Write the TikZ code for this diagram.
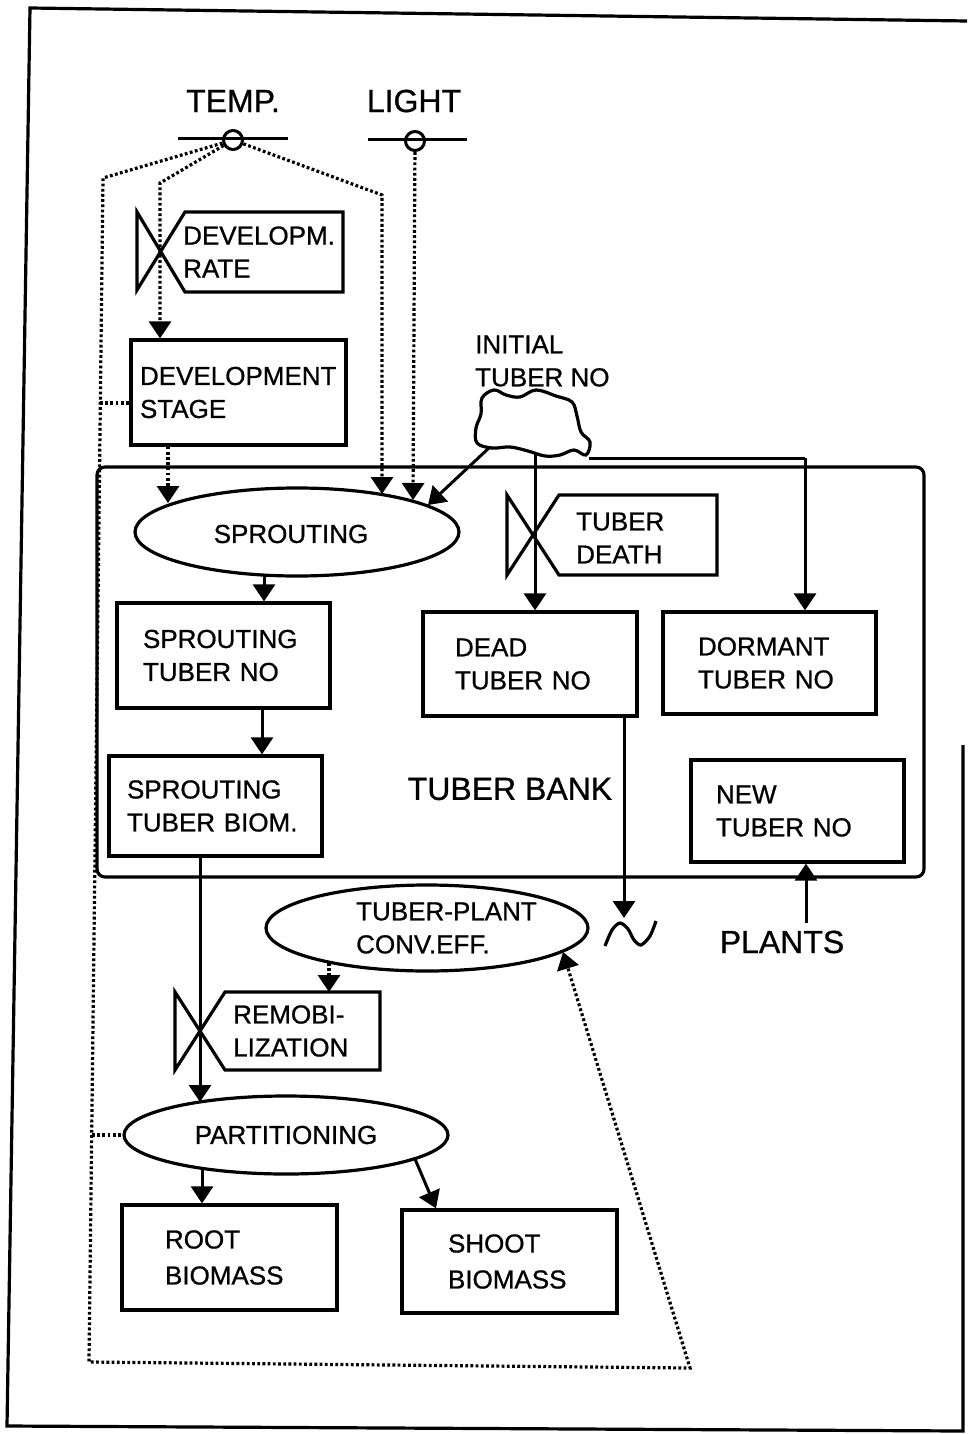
\documentclass[tikz,border=0pt]{standalone}
\usepackage{fontspec}
\setmainfont{Liberation Sans}[FakeBold=0.8]
\usetikzlibrary{arrows.meta,shapes.geometric}
\begin{document}
\begin{tikzpicture}[x=1pt,y=-1pt,
  every node/.style={font=\fontsize{26}{33}\selectfont, inner sep=0pt},
  box/.style={draw, line width=3.2pt, align=left},
  oval/.style={draw, ellipse, line width=3.2pt},
  lbl/.style={align=left, anchor=west},
  big/.style={font=\fontsize{32}{38}\selectfont},
  tipA/.style={-{Triangle[width=22pt,length=17pt]}},
  flow/.style={line width=3pt, tipA},
  dotl/.style={line width=3.2pt, dash pattern=on 2.8pt off 2.4pt},
  info/.style={dotl, tipA},
  valveline/.style={line width=3.2pt, line join=miter},
  ]
\useasboundingbox (0,0) rectangle (967,1434);
% page frame
\draw[line width=3.2pt] (967,21) -- (30,8) -- (7,1426) -- (963,1431) -- (963,745);

% tuber bank
\node[draw, rounded corners=8pt, line width=3.2pt, minimum width=827, minimum height=410] (bank) at (510.5,672) {};
\node[big] (banklab) at (510,789) {TUBER BANK};

% drivers
\node[big] (templab) at (233,101) {TEMP.};
\node[big] (lightlab) at (414,101) {LIGHT};
\coordinate (t1) at (178,139); \coordinate (t2) at (288,139);
\coordinate (l1) at (368,140); \coordinate (l2) at (467,140);
\draw[line width=3pt] (t1) -- (t2);
\draw[line width=3pt] (l1) -- (l2);
\node[draw, circle, line width=3pt, minimum size=19] (tempc) at (233,140) {};
\node[draw, circle, line width=3pt, minimum size=19] (lightc) at (415,141) {};

% boxes
\node[box, minimum width=215, minimum height=105, text width=197] (devstage) at (238.5,392.5) {DEVELOPMENT\\STAGE};
\node[box, minimum width=213, minimum height=105, text width=161] (sptno) at (223.5,655.5) {SPROUTING\\TUBER NO};
\node[box, minimum width=213, minimum height=100, text width=177] (sptbio) at (215.5,806) {SPROUTING\\TUBER BIOM.};
\node[box, minimum width=214, minimum height=104, text width=150] (dead) at (530,664) {DEAD\\TUBER NO};
\node[box, minimum width=213, minimum height=102, text width=143] (dormant) at (769.5,663) {DORMANT\\TUBER NO};
\node[box, minimum width=213, minimum height=102, text width=163] (newtub) at (797.5,811) {NEW\\TUBER NO};
\node[box, minimum width=215, minimum height=105, text width=129, font=\fontsize{26}{36}\selectfont] (root) at (229.5,1257.5) {ROOT\\BIOMASS};
\node[box, minimum width=215, minimum height=103, text width=123, font=\fontsize{26}{36}\selectfont] (shoot) at (509.5,1261.5) {SHOOT\\BIOMASS};

% ellipses
\node[oval, minimum width=324, minimum height=88] (sprout) at (297,532) {};
\node (sproutt) at (291,534) {SPROUTING};
\node[oval, minimum width=322, minimum height=86] (tpce) at (427,928) {};
\node[lbl] (tpcet) at (356,928) {TUBER-PLANT\\CONV.EFF.};
\node[oval, minimum width=324, minimum height=78] (part) at (286,1135) {PARTITIONING};

% valves
\draw[valveline] (137,212) -- (137,290) -- (185,212) -- (343,212) -- (343,292) -- (185,292) -- cycle;
\node[lbl] (drate) at (183,252) {DEVELOPM.\\RATE};
\draw[valveline] (507,495) -- (507,575) -- (559,495) -- (717,495) -- (717,575) -- (559,575) -- cycle;
\node[lbl] (tdeath) at (576,538) {TUBER\\DEATH};
\draw[valveline] (175,992) -- (175,1070) -- (225,992) -- (380,992) -- (380,1070) -- (225,1070) -- cycle;
\node[lbl] (remob) at (233,1031) {REMOBI-\\LIZATION};

% cloud
\node[lbl] (initlab) at (475,361) {INITIAL\\TUBER NO};
\draw[line width=3.2pt] plot[smooth cycle, tension=0.6] coordinates {
  (482,398) (494,390) (506,395) (520,397) (536,390) (556,396) (572,402) (577,416)
  (581,432) (590,442) (586,455) (574,450) (560,455) (545,456) (528,451)
  (510,447) (492,448) (477,443) (476,428) (481,414)};
\coordinate (cl) at (490,447);
\coordinate (cb) at (535,453);
\coordinate (cr) at (589,458);

% sink
\coordinate (sinktop) at (624,918);
\draw[line width=3.2pt] plot[smooth] coordinates {(605,946) (612,930) (620,923) (628,929) (634,940) (641,945) (650,936) (656,921)};

\node[big] (plants) at (782,942) {PLANTS};

% information links (dotted)
\coordinate (a1) at (103,178);
\coordinate (a2) at (89,1362);
\coordinate (a3) at (690,1368);
\draw[info] (tempc) -- (a1) -- (a2) -- (a3) -- (563,952);
\coordinate (b1) at (100,403);
\draw[dotl] (b1) -- (b1 -| devstage.west);
\coordinate (b2) at (92,1135);
\draw[dotl] (b2) -- (part.west);
\coordinate (c2) at (160,183);
\draw[info] (tempc) -- (c2) -- (c2 |- devstage.north);
\coordinate (c3) at (382,195);
\draw[info] (tempc) -- (c3) -- (382,494);
\draw[info] (lightc) -- (413,500);
\coordinate (d3) at (168,503);
\draw[info] (devstage.south -| d3) -- (d3);
\coordinate (e1) at (329,963);
\draw[info] (e1) -- (329,992);

% material flows
\draw[flow] (cl) -- (428,505);
\draw[flow] (cb) -- (cb |- dead.north);
\coordinate (f1) at (805,458);
\draw[line width=3pt] (cr) -- (f1);
\draw[flow] (f1) -- (f1 |- dormant.north);
\coordinate (s1) at (264,574);
\draw[flow] (s1) -- (s1 |- sptno.north);
\coordinate (s2) at (262,0);
\draw[flow] (sptno.south -| s2) -- (sptbio.north -| s2);
\coordinate (s3) at (200,1102);
\draw[flow] (sptbio.south -| s3) -- (s3);
\coordinate (s4) at (202,1168);
\draw[flow] (s4) -- (s4 |- root.north);
\coordinate (s5) at (415,1159);
\coordinate (s6) at (436,0);
\draw[flow] (s5) -- (shoot.north -| s6);
\draw[flow] (dead.south -| sinktop) -- (sinktop);
\coordinate (p1) at (806,923);
\draw[flow] (p1) -- (p1 |- newtub.south);
\end{tikzpicture}
\end{document}
